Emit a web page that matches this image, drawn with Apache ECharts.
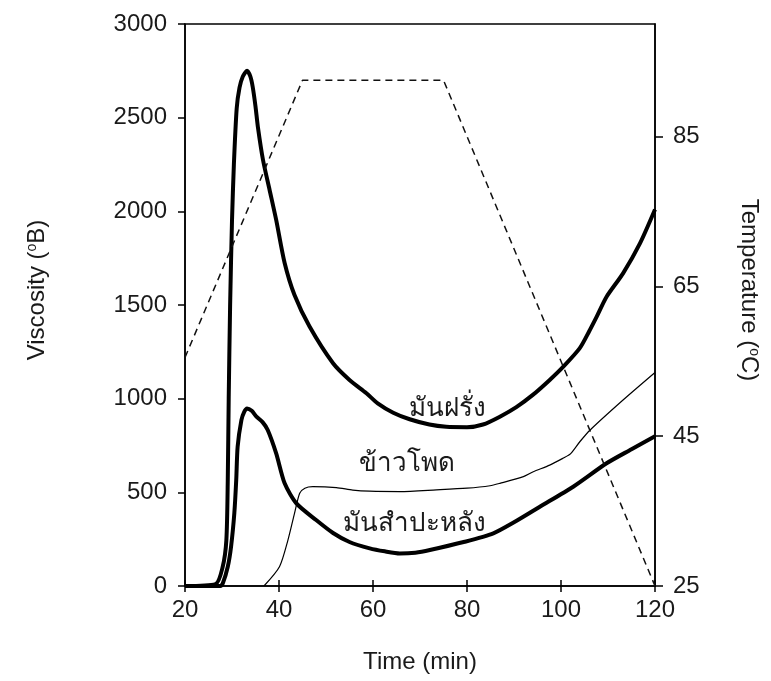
<!DOCTYPE html>
<html>
<head>
<meta charset="utf-8">
<script src="https://cdn.jsdelivr.net/npm/echarts@6/dist/echarts.min.js"></script>
<style>
html,body{margin:0;padding:0;background:#fff;}
#chart{width:771px;height:681px;}
</style>
</head>
<body>
<div id="chart"></div>
<script>
// ---- data ----
var xTicks = [20, 40, 60, 80, 100, 120];
var viscosityTicks = [0, 500, 1000, 1500, 2000, 2500, 3000];
var temperatureTicks = [25, 45, 65, 85];

var potatoTime = [20, 26.5, 28, 28.8, 29.1, 29.3, 29.6, 30.0, 30.4, 31.0, 31.6, 32.3, 33.2, 33.9, 34.4, 35.0, 35.5, 36.6, 38.0, 39.4, 41.2, 43.3, 46.5, 51.5, 55, 58.6, 61, 64.3, 67.8, 72, 75.6, 80, 83.4, 87, 90.5, 94, 97.6, 100.5, 104, 106, 107.6, 109.7, 113.2, 116.8, 120];
var potatoVisc = [0, 10, 100, 245, 566, 1000, 1500, 1950, 2250, 2550, 2660, 2720, 2750, 2720, 2665, 2560, 2452, 2274, 2114, 1954, 1724, 1553, 1385, 1189, 1100, 1029, 975, 925, 890, 862, 850, 848, 862, 904, 955, 1020, 1100, 1171, 1270, 1360, 1438, 1544, 1669, 1829, 2010];

var cassavaTime = [20, 27.5, 28.05, 29.1, 29.8, 30.5, 30.9, 31.2, 32, 32.6, 33.2, 34.2, 35.2, 36.5, 37.6, 39.4, 41.2, 43.7, 47.9, 51.5, 55, 59.3, 62.5, 65.7, 69, 72.1, 79.5, 85.6, 90, 95.5, 102.6, 109.7, 115, 120];
var cassavaVisc = [0, 0, 15, 103, 210, 390, 566, 744, 886, 930, 948, 935, 904, 875, 833, 708, 548, 441, 352, 283, 235, 201, 185, 174, 178, 192, 236, 281, 340, 423, 530, 655, 730, 800];

var cornTime = [36.8, 40.1, 41.9, 43.3, 44.4, 45.5, 47.2, 52.2, 55.7, 59.3, 65.7, 73.5, 80, 84.9, 87, 92, 94.1, 97.6, 100.5, 102, 104, 106.2, 113.2, 120];
var cornVisc = [0, 103, 245, 388, 495, 522, 530, 525, 512, 506, 504, 513, 522, 535, 548, 584, 610, 645, 683, 705, 770, 833, 993, 1140];

var tempTime = [20, 45, 75, 120];
var tempValue = [55.5, 92.5, 92.5, 25];

var seriesNames = ['มันฝรั่ง', 'ข้าวโพด', 'มันสำปะหลัง', 'Temperature'];
var labelAnchors = [[75.9, 945], [67.2, 650], [68.9, 332]];

function pairs(xs, ys) { return xs.map(function (x, i) { return [x, ys[i]]; }); }

var FONT = "'Liberation Sans', Arial, 'Noto Sans', 'DejaVu Sans', sans-serif";
var TXT = '#1a1a1a';
function plain(v) { return String(v); }

function labelMark(text, coord) {
  return {
    silent: true,
    symbol: 'circle',
    symbolSize: 0,
    label: { show: true, position: 'inside', formatter: text, fontSize: 26, fontFamily: FONT, color: TXT },
    data: [{ coord: coord }]
  };
}

var SMOOTH = 0.25;

var chart = echarts.init(document.getElementById('chart'));
chart.setOption({
  animation: false,
  backgroundColor: '#fff',
  grid: { left: 185, right: 116, top: 24, bottom: 95, show: true, borderColor: '#000', borderWidth: 1.5, backgroundColor: 'transparent' },
  xAxis: [{
    type: 'value', min: 20, max: 120, interval: 20,
    name: 'Time (min)', nameLocation: 'middle', nameGap: 64,
    nameTextStyle: { fontSize: 24, fontFamily: FONT, color: TXT },
    axisLine: { lineStyle: { color: '#000', width: 1.5 } },
    axisTick: { show: true, length: 6, lineStyle: { color: '#000', width: 1.5 }, customValues: xTicks },
    axisLabel: { fontSize: 24, fontFamily: FONT, color: TXT, margin: 12, customValues: xTicks, formatter: plain },
    splitLine: { show: false }
  }, {
    type: 'value', min: 20, max: 120, interval: 20, position: 'bottom',
    axisLine: { show: false },
    axisTick: { show: true, inside: true, length: 6, lineStyle: { color: '#000', width: 1.5 }, customValues: xTicks },
    axisLabel: { show: false },
    splitLine: { show: false }
  }],
  yAxis: [{
    type: 'value', min: 0, max: 3000, interval: 500, position: 'left',
    name: 'Viscosity ({sup|o}B)', nameLocation: 'middle', nameGap: 136, nameRotate: 90,
    nameTextStyle: { fontSize: 24, fontFamily: FONT, color: TXT, padding: [0, 0, 0, 30],
      rich: { sup: { fontSize: 14, fontFamily: FONT, color: TXT, verticalAlign: 'top', padding: [0, 0, 8, 0] } } },
    axisLine: { show: true, lineStyle: { color: '#000', width: 1.5 } },
    axisTick: { show: true, length: 7, lineStyle: { color: '#000', width: 1.5 }, customValues: viscosityTicks },
    axisLabel: { fontSize: 24, fontFamily: FONT, color: TXT, margin: 18, customValues: viscosityTicks, formatter: plain },
    splitLine: { show: false }
  }, {
    type: 'value', min: 25, max: 100, position: 'right',
    name: 'Temperature ({sup|o}C)', nameLocation: 'middle', nameGap: 82, nameRotate: -90,
    nameTextStyle: { fontSize: 24, fontFamily: FONT, color: TXT, padding: [0, 30, 0, 0],
      rich: { sup: { fontSize: 14, fontFamily: FONT, color: TXT, verticalAlign: 'top', padding: [0, 0, 8, 0] } } },
    axisLine: { show: true, lineStyle: { color: '#000', width: 1.5 } },
    axisTick: { show: true, length: 8, lineStyle: { color: '#000', width: 1.5 }, customValues: temperatureTicks },
    axisLabel: { fontSize: 24, fontFamily: FONT, color: TXT, margin: 18, customValues: temperatureTicks, formatter: plain },
    splitLine: { show: false }
  }],
  series: [{
    name: seriesNames[0], type: 'line', xAxisIndex: 0, yAxisIndex: 0,
    data: pairs(potatoTime, potatoVisc), showSymbol: false, symbol: 'none',
    smooth: SMOOTH,
    lineStyle: { color: '#000', width: 4, join: 'round' },
    markPoint: labelMark(seriesNames[0], labelAnchors[0])
  }, {
    name: seriesNames[1], type: 'line', xAxisIndex: 0, yAxisIndex: 0,
    data: pairs(cornTime, cornVisc), showSymbol: false, symbol: 'none',
    smooth: SMOOTH,
    lineStyle: { color: '#000', width: 1.2, join: 'round' },
    markPoint: labelMark(seriesNames[1], labelAnchors[1])
  }, {
    name: seriesNames[2], type: 'line', xAxisIndex: 0, yAxisIndex: 0,
    data: pairs(cassavaTime, cassavaVisc), showSymbol: false, symbol: 'none',
    smooth: SMOOTH,
    lineStyle: { color: '#000', width: 4, join: 'round' },
    markPoint: labelMark(seriesNames[2], labelAnchors[2])
  }, {
    name: seriesNames[3], type: 'line', xAxisIndex: 0, yAxisIndex: 1,
    data: pairs(tempTime, tempValue), showSymbol: false, symbol: 'none',
    lineStyle: { color: '#111', width: 1.5, type: [7, 5] }
  }]
});
</script>
</body>
</html>
